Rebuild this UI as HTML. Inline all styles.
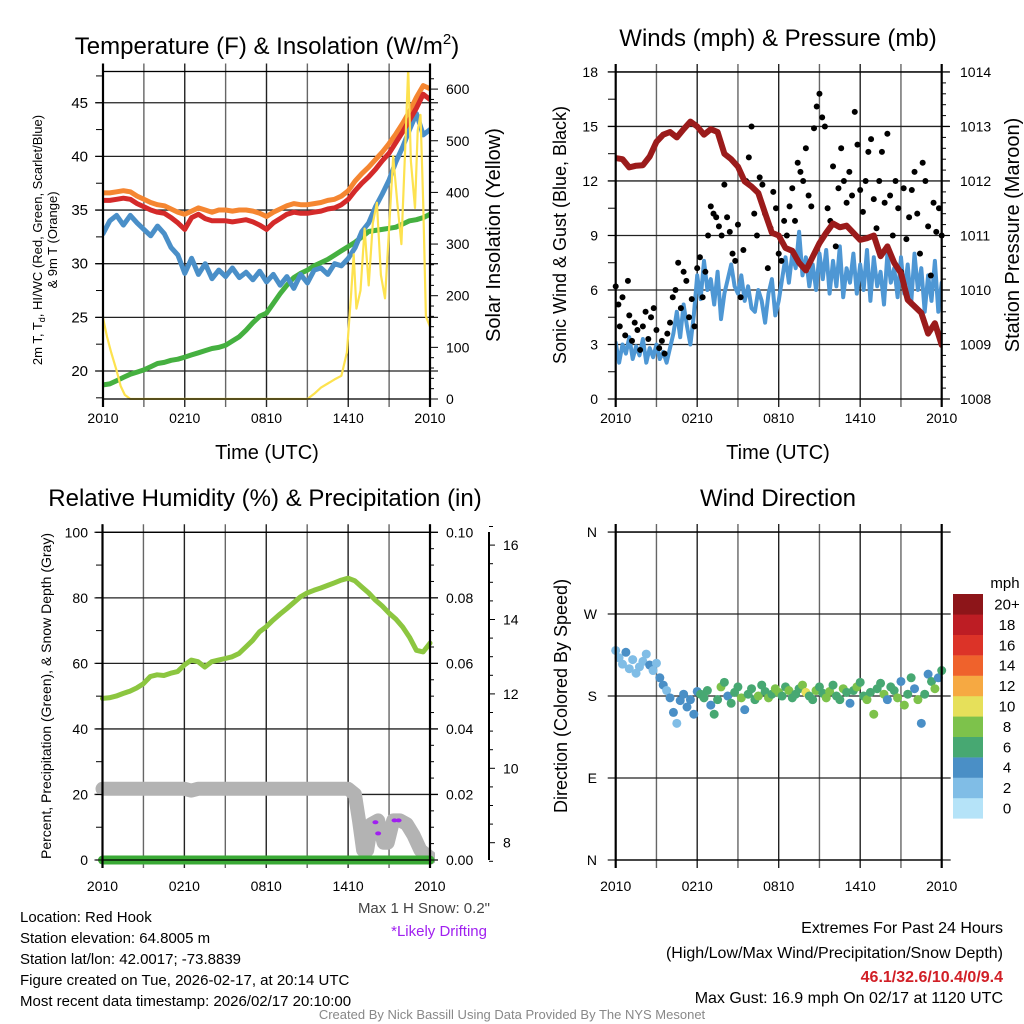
<!DOCTYPE html>
<html><head><meta charset="utf-8"><style>
html,body{margin:0;padding:0;background:#fff;}
svg{display:block;font-family:"Liberation Sans",sans-serif;}
</style></head><body>
<svg id="chart" width="1024" height="1024" viewBox="0 0 1024 1024" xmlns="http://www.w3.org/2000/svg">
<defs>
<clipPath id="c1"><rect x="103" y="71" width="327" height="329"/></clipPath>
<clipPath id="c2"><rect x="615" y="71" width="327" height="329"/></clipPath>
<clipPath id="c3"><rect x="90" y="532" width="345" height="335"/></clipPath>
<clipPath id="c4"><rect x="607" y="532" width="340" height="328"/></clipPath>
</defs>
<g id="grids"></g>
<g id="series"></g>
<g id="axes"></g>
<!-- titles -->
<text x="267" y="54" font-size="24" text-anchor="middle">Temperature (F) &amp; Insolation (W/m<tspan font-size="15" dy="-10">2</tspan><tspan dy="10">)</tspan></text>
<text x="778" y="46" font-size="24" text-anchor="middle">Winds (mph) &amp; Pressure (mb)</text>
<text x="265" y="506" font-size="24" text-anchor="middle">Relative Humidity (%) &amp; Precipitation (in)</text>
<text x="778" y="506" font-size="24" text-anchor="middle">Wind Direction</text>
<!-- axis titles -->
<text x="267" y="459" font-size="20" text-anchor="middle">Time (UTC)</text>
<text x="778" y="459" font-size="20" text-anchor="middle">Time (UTC)</text>
<text transform="translate(42,240) rotate(-90)" font-size="13" text-anchor="middle">2m T, T<tspan font-size="9" dy="3">d</tspan><tspan dy="-3">, HI/WC (Red, Green, Scarlet/Blue)</tspan></text>
<text transform="translate(57,240) rotate(-90)" font-size="13" text-anchor="middle">&amp; 9m T (Orange)</text>
<text transform="translate(500,235) rotate(-90)" font-size="20" text-anchor="middle">Solar Insolation (Yellow)</text>
<text transform="translate(566,235) rotate(-90)" font-size="18" text-anchor="middle">Sonic Wind &amp; Gust (Blue, Black)</text>
<text transform="translate(1019,235) rotate(-90)" font-size="20" text-anchor="middle">Station Pressure (Maroon)</text>
<text transform="translate(51,696) rotate(-90)" font-size="14" text-anchor="middle">Percent, Precipitation (Green), &amp; Snow Depth (Gray)</text>
<text transform="translate(567,696) rotate(-90)" font-size="18" text-anchor="middle">Direction (Colored By Speed)</text>
<!-- notes -->
<text x="490" y="913" font-size="15" fill="#444" text-anchor="end">Max 1 H Snow: 0.2"</text>
<text x="487" y="936" font-size="15" fill="#a020f0" text-anchor="end">*Likely Drifting</text>
<g font-size="15">
<text x="20" y="922">Location: Red Hook</text>
<text x="20" y="943">Station elevation: 64.8005 m</text>
<text x="20" y="964">Station lat/lon: 42.0017; -73.8839</text>
<text x="20" y="985">Figure created on Tue, 2026-02-17, at 20:14 UTC</text>
<text x="20" y="1006">Most recent data timestamp: 2026/02/17 20:10:00</text>
</g>
<g font-size="16" text-anchor="end">
<text x="1003" y="933">Extremes For Past 24 Hours</text>
<text x="1003" y="958">(High/Low/Max Wind/Precipitation/Snow Depth)</text>
<text x="1003" y="982" fill="#d11f26" font-weight="bold">46.1/32.6/10.4/0/9.4</text>
<text x="1003" y="1003">Max Gust: 16.9 mph On 02/17 at 1120 UTC</text>
</g>
<text x="512" y="1019" font-size="13" fill="#888" text-anchor="middle">Created By Nick Bassill Using Data Provided By The NYS Mesonet</text>
<text x="1005" y="588" font-size="15" text-anchor="middle">mph</text>
<g id="colorbar"></g>
</svg>
<script>
// ---------- DATA ----------
const timeTicks = ["2010","0210","0810","1410","2010"];
const tempTicks = [20,25,30,35,40,45];
const insTicks = [0,100,200,300,400,500,600];
const windTicks = [0,3,6,9,12,15,18];
const presTicks = [1008,1009,1010,1011,1012,1013,1014];
const rhTicks = [0,20,40,60,80,100];
const precipTicks = ["0.00","0.02","0.04","0.06","0.08","0.10"];
const snowTicks = [8,10,12,14,16];
const dirLabels = ["N","E","S","W","N"];
const speedBins = ["0","2","4","6","8","10","12","14","16","18","20+"];
const speedColors = ["#b5e3f8","#80bde6","#4a8fc6","#47a872","#7dc24b","#e6e05a","#f6a942","#ef622c","#dc3328","#bd1d24","#8d1519"];

// temperature series every 0.5 h
const airTemp = [35.9,35.9,36.0,36.1,36.0,35.6,35.3,35.0,34.8,34.7,34.3,33.8,33.2,34.3,34.6,34.2,34.0,34.0,34.0,33.9,34.0,34.1,33.9,33.6,33.2,33.8,34.2,34.6,34.8,34.7,34.7,34.8,34.9,35.1,35.2,35.5,36.0,36.8,37.5,38.1,38.8,39.6,40.3,41.3,42.3,43.4,44.5,45.8,45.3];
const temp9m = [36.6,36.6,36.7,36.8,36.7,36.3,36.0,35.7,35.5,35.4,35.1,34.8,34.6,34.9,35.2,35.0,34.8,35.0,35.0,34.9,35.0,35.0,34.9,34.7,34.4,34.8,35.1,35.4,35.6,35.5,35.5,35.6,35.7,35.9,36.0,36.3,36.8,37.7,38.4,39.0,39.7,40.4,41.2,42.1,43.1,44.2,45.5,46.6,46.3];
const windChill = [32.8,34.0,34.5,33.6,34.5,33.8,33.2,32.6,33.5,32.8,31.5,30.8,29.1,30.5,29.0,30.0,28.6,29.4,28.8,29.6,28.7,29.2,28.5,29.3,28.3,29.0,28.0,28.8,27.7,29.0,28.2,29.4,29.6,29.0,30.0,29.8,30.5,31.5,33.0,33.8,35.3,36.5,37.8,39.5,40.9,42.5,44.0,42.0,42.5];
const dewPoint = [18.7,18.8,19.1,19.4,19.7,19.9,20.1,20.4,20.7,20.8,21.0,21.1,21.3,21.5,21.7,21.9,22.1,22.2,22.4,22.8,23.2,23.8,24.5,25.1,25.4,26.3,27.2,28.0,28.7,29.1,29.4,29.8,30.1,30.4,30.8,31.2,31.6,32.0,32.5,33.0,33.1,33.2,33.3,33.4,33.7,34.0,34.1,34.3,34.6];
const solarHours = [0,0.3,0.6,1,1.3,1.6,2,15,15.5,16,16.5,17,17.5,17.9,18.2,18.4,18.6,18.9,19.2,19.5,19.8,20.1,20.4,20.7,21,21.3,21.6,21.9,22.2,22.4,22.6,22.9,23.1,23.3,23.5,23.7,24];
const solarValues = [157,120,90,55,25,8,0,0,10,22,30,38,45,90,200,280,175,210,330,220,340,380,240,195,330,470,380,300,500,640,460,370,520,550,380,160,140];

// winds & pressure
const pressure = [1012.42,1012.40,1012.25,1012.28,1012.29,1012.45,1012.72,1012.85,1012.90,1012.80,1012.95,1013.09,1013.00,1012.85,1012.95,1012.90,1012.50,1012.40,1012.26,1011.99,1011.90,1011.78,1011.41,1011.05,1011.00,1010.77,1010.72,1010.50,1010.36,1010.61,1010.86,1011.05,1011.22,1011.15,1011.18,1011.05,1010.92,1010.95,1011.00,1010.62,1010.80,1010.50,1010.31,1009.82,1009.70,1009.58,1009.20,1009.39,1008.99];
// sonic wind every 0.25 h
const sonicWind = [3.1,2.0,3.0,2.5,3.4,2.2,2.9,2.4,3.3,2.0,2.8,2.3,3.0,
2.2,2.6,2.0,2.8,3.6,4.8,3.4,5.2,4.0,3.0,4.6,6.8,
5.5,7.6,6.0,6.6,5.2,7.0,4.4,5.8,6.6,7.4,6.2,5.8,
6.8,5.4,6.2,5.0,4.8,6.0,5.4,4.2,5.8,6.6,4.6,5.4,
6.6,7.8,6.4,8.0,7.2,9.2,6.8,7.8,6.2,7.4,6.0,8.0,
6.6,8.2,5.8,7.6,6.2,8.4,5.6,7.2,6.4,8.0,5.8,7.4,
6.0,8.2,5.4,7.8,6.2,7.0,5.2,8.0,6.4,7.2,5.6,7.8,
5.8,7.4,5.2,8.0,6.0,7.2,4.8,6.8,5.4,7.6,4.8,6.4];
const gustHours = [0.0,0.2,0.3,0.5,0.7,0.9,1.0,1.2,1.4,1.6,1.8,2.0,2.2,2.4,2.6,2.8,3.0,3.2,3.4,3.6,3.8,4.0,4.2,4.4,4.6,4.8,5.0,5.2,5.4,5.6,5.8,6.0,6.2,6.4,6.6,6.8,7.0,7.2,7.4,7.6,7.8,8.0,8.2,8.4,8.6,8.8,9.0,9.2,9.4,9.6,9.8,10.0,10.2,10.4,10.6,10.8,11.0,11.2,11.4,11.6,11.8,12.0,12.2,12.4,12.6,12.8,13.0,13.2,13.4,13.6,13.8,14.0,14.2,14.4,14.6,14.8,15.0,15.2,15.4,15.6,15.8,16.0,16.2,16.4,16.6,16.8,17.0,17.2,17.4,17.6,17.8,18.0,18.2,18.4,18.6,18.8,19.0,19.2,19.4,19.6,19.8,20.0,20.2,20.4,20.6,20.8,21.0,21.2,21.4,21.6,21.8,22.0,22.2,22.4,22.6,22.8,23.0,23.2,23.4,23.6,23.8,24.0];
const gustValues = [6.2,5.2,4.0,5.6,3.5,6.5,4.6,3.2,4.2,3.8,2.7,4.0,4.8,3.3,4.5,5.0,3.8,2.8,3.2,2.5,3.6,4.2,5.6,6.0,7.5,5.0,7.0,6.5,4.5,5.5,4.0,7.2,7.8,5.6,7.0,9.0,10.6,10.2,10.0,9.5,9.0,11.8,10.0,9.2,8.0,7.6,9.6,5.6,8.2,12.0,13.3,15.0,10.2,9.0,12.2,11.8,10.2,7.2,9.4,11.4,10.5,8.0,7.6,9.8,9.0,10.6,11.6,9.8,13.0,12.5,12.0,13.8,11.2,10.6,14.9,16.1,16.8,15.5,15.0,10.5,9.8,12.8,8.4,11.6,13.8,12.0,10.8,12.5,11.2,15.8,14.0,11.5,10.3,12.0,13.6,14.3,11.0,9.4,12.0,13.6,10.8,14.6,11.2,9.0,12.0,10.5,7.0,11.6,8.8,10.0,11.5,12.5,10.2,8.0,13.0,12.0,9.5,6.8,10.8,9.2,10.5,9.0];

// humidity / precip / snow
const relHum = [49.3,49.5,50.0,50.8,51.5,52.5,53.8,56.0,56.5,56.3,57.0,57.5,59.5,61.0,60.5,58.9,60.5,61.0,61.5,62.0,63.0,65.0,67.0,69.6,71.2,73.2,75.0,76.7,78.5,80.3,81.5,82.3,83.0,83.8,84.6,85.4,86.0,85.2,83.3,81.5,79.3,77.5,75.3,73.5,71.1,68.0,64.0,63.5,66.2];
const precip = [0,0,0,0,0,0,0,0,0,0,0,0,0,0,0,0,0,0,0,0,0,0,0,0,0,0,0,0,0,0,0,0,0,0,0,0,0,0,0,0,0,0,0,0,0,0,0,0,0];
const snowHours = [0,6,6.5,7,18,18.5,18.8,19.1,19.4,19.7,20.2,20.6,20.9,21.3,21.8,22.3,22.8,23.3,24];
const snowDepth = [9.45,9.45,9.4,9.45,9.45,9.3,8.6,7.8,7.8,8.5,8.6,8.0,8.0,8.6,8.6,8.5,8.2,7.8,7.6];
const driftHours = [20.0,20.2,21.4,21.7];
const driftDepth = [8.55,8.25,8.6,8.6];

// wind direction, every 0.25 h
const windDir = [230,222,215,228,210,220,205,212,218,226,214,208,216,200,192,186,178,162,150,175,182,168,176,160,185,182,178,186,170,160,176,190,195,180,172,184,190,178,165,182,188,176,180,192,185,178,182,188,184,180,190,186,178,182,188,192,184,180,176,186,190,183,178,185,192,180,176,188,184,172,186,190,195,180,176,184,160,188,194,182,176,190,186,178,196,170,182,200,188,176,150,182,204,196,188,200,208];
const dirSpeed = [3,2,2,4,2,3,2,3,2,3,4,2,3,4,4,3,4,4,3,5,4,5,4,5,4,6,7,6,5,6,7,8,6,5,7,6,7,8,5,6,7,6,8,7,6,8,7,8,9,7,6,8,7,6,7,9,10,7,6,8,7,6,8,9,7,6,7,8,6,5,7,8,6,7,8,6,9,7,6,8,5,7,6,9,5,8,6,7,4,9,5,7,4,6,8,5,7];

// ---------- AXES ----------
const NS='http://www.w3.org/2000/svg';
const x1=t=>103+t*327/24, yT=v=>371-(v-20)*10.73, yS=w=>399-w*0.5165;
const x2=t=>615.7+t*326/24, yW=v=>399-v*18.17, yP=p=>399-(p-1008)*54.5;
const x3=t=>102.5+t*327.5/24, yRH=v=>860-v*3.277, yPr=v=>860-v*3277, ySn=v=>842.7-(v-8)*37.2;
const x4=t=>615.7+t*326/24, yD=d=>860-d*0.911;

function mk(tag,attrs,parent){const e=document.createElementNS(NS,tag);for(const k in attrs)e.setAttribute(k,attrs[k]);(parent||document.getElementById('series')).appendChild(e);return e;}
function txt(s,attrs,parent){const e=mk('text',attrs,parent);e.textContent=s;return e;}
const G=document.getElementById('grids'), A=document.getElementById('axes'), S=document.getElementById('series');

function panelGrid(xf,left,right,top,bot,hy,extR){
  for(let i=0;i<=8;i++){const x=xf(i*3);
    const l=mk('line',{x1:x,x2:x,y1:top-8,y2:bot+8,stroke:i%2?'#666':'#222','stroke-width':1.4},G);
    
    }
  hy.forEach(y=>{const l=mk('line',{x1:left-8,x2:right+extR,y1:y,y2:y,stroke:'#222','stroke-width':1.3},G);
    
    });
  const f=mk('rect',{x:left,y:top,width:right-left,height:bot-top,fill:'none',stroke:'#000','stroke-width':1.3},A);
  
  
  [left,right].forEach(x=>{const l=mk('line',{x1:x,x2:x,y1:top-8,y2:bot+8,stroke:'#000','stroke-width':2.2},A);
    
    });
}
function tick(x1_,y1_,x2_,y2_){const l=mk('line',{x1:x1_,y1:y1_,x2:x2_,y2:y2_,stroke:'#000','stroke-width':1},A);
  
  }
function xLabels(xf,y){timeTicks.forEach((s,i)=>{const t=txt(s,{x:xf(i*6),y:y,'font-size':14,'text-anchor':'middle'},A);
  
  });}

// Panel 1
panelGrid(x1,103,430,71.5,399,tempTicks.map(yT),8);
for(let v=17.5;v<=47.6;v+=2.5){tick(96,yT(v),103,yT(v));}
tempTicks.forEach(v=>{const t=txt(v,{x:88,y:yT(v)+5,'font-size':15,'text-anchor':'end'},A);
  
  });
for(let w=0;w<=620;w+=20){tick(430,yS(w),w%100?434:438,yS(w));}
insTicks.forEach(v=>{const t=txt(v,{x:446,y:yS(v)+5,'font-size':14},A);
  
  });
xLabels(x1,423);

// Panel 2
panelGrid(x2,615.7,941.7,72,399,windTicks.map(yW),8);
for(let v=0;v<=18;v+=1.5){tick(608,yW(v),615.7,yW(v));}
windTicks.forEach(v=>{const t=txt(v,{x:598,y:yW(v)+5,'font-size':14,'text-anchor':'end'},A);
  
  });
for(let p=0;p<=30;p++){const pv=1008+p*0.2;tick(941.7,yP(pv),p%5?946:950,yP(pv));}
presTicks.forEach(v=>{const t=txt(v,{x:960,y:yP(v)+5,'font-size':14},A);
  
  });
xLabels(x2,423);

// Panel 3
panelGrid(x3,102.5,430,532.3,860,rhTicks.map(yRH),8);
for(let v=0;v<=100;v+=10){tick(96,yRH(v),102.5,yRH(v));}
rhTicks.forEach(v=>{const t=txt(v,{x:88,y:yRH(v)+5,'font-size':14,'text-anchor':'end'},A);
  
  });
for(let i=0;i<=20;i++){tick(430,yPr(i*0.005),i%4?434:438,yPr(i*0.005));}
precipTicks.forEach(s=>{const t=txt(s,{x:446,y:yPr(parseFloat(s))+5,'font-size':14},A);
  
  });
{const l=mk('line',{x1:489,x2:489,y1:532,y2:860,stroke:'#000','stroke-width':2},A);

}
for(let v=7.5;v<=16.6;v+=0.5){tick(489,ySn(v),Number.isInteger(v)&&v%2===0?495:493,ySn(v));}
snowTicks.forEach(v=>{const t=txt(v,{x:503,y:ySn(v)+5,'font-size':14},A);
  
  });
xLabels(x3,891);

// Panel 4
panelGrid(x4,615.7,941.7,532,860,[0,90,180,270,360].map(yD),9);
dirLabels.forEach((s,i)=>{const t=txt(s,{x:597,y:yD(i*90)+5,'font-size':14,'text-anchor':'end'},A);
  
  });
xLabels(x4,891);

// colorbar
const CB=document.getElementById('colorbar');
speedColors.forEach((c,i)=>{const y=594+(10-i)*20.4;
  const r=mk('rect',{x:953,y:y,width:30,height:20.6,fill:c},CB);
  
  
  const t=txt(speedBins[i],{x:1007,y:y+15.5,'font-size':15,'text-anchor':'middle'},CB);
  
  });

// ---------- SERIES ----------
function poly(xs,ys,stroke,w,clip,name){
  const pts=xs.map((x,i)=>x.toFixed(1)+','+ys[i].toFixed(1)).join(' ');
  const p=mk('polyline',{points:pts,fill:'none',stroke:stroke,'stroke-width':w,'stroke-linejoin':'round','stroke-linecap':'round','clip-path':'url(#'+clip+')'},S);
  
  
  return p;}
const half=i=>i*0.5;
poly(dewPoint.map((v,i)=>x1(half(i))),dewPoint.map(yT),'#45b040',5,'c1','dewpoint-line');
poly(windChill.map((v,i)=>x1(half(i))),windChill.map(yT),'#4a8fc8',5,'c1','windchill-line');
poly(temp9m.map((v,i)=>x1(half(i))),temp9m.map(yT),'#f58631',5,'c1','temp-9m-line');
poly(airTemp.map((v,i)=>x1(half(i))),airTemp.map(yT),'#d42a2a',5,'c1','temp-2m-line');
poly(solarHours.map(x1),solarValues.map(yS),'#fde24f',2.2,'c1','solar-insolation-line');

poly(sonicWind.map((v,i)=>x2(i*0.25)),sonicWind.map(yW),'#4e97d4',4,'c2','sonic-wind-line');
gustValues.forEach((v,i)=>{const c=mk('circle',{cx:x2(gustHours[i]),cy:yW(v),r:3,fill:'#000'},S);
  
  });
poly(pressure.map((v,i)=>x2(half(i))),pressure.map(yP),'#9b1b1b',6,'c2','pressure-line');

poly(relHum.map((v,i)=>x3(half(i))),relHum.map(yRH),'#8cc640',5,'c3','rh-line');
poly(snowHours.map(x3),snowDepth.map(ySn),'#b3b3b3',14,'c3','snow-depth-line');
poly(precip.map((v,i)=>x3(half(i))),precip.map(yPr),'#3aaa35',9,'c3','precip-line');
driftDepth.forEach((v,i)=>{const c=mk('ellipse',{cx:x3(driftHours[i]),cy:ySn(v),rx:3,ry:2,fill:'#a020f0'},S);
  
  });

windDir.forEach((d,i)=>{const b=Math.min(10,Math.floor(dirSpeed[i]/2));
  const c=mk('circle',{cx:x4(i*0.25),cy:yD(d),r:4.5,fill:speedColors[b]},S);
  
  });
</script>
</body></html>
